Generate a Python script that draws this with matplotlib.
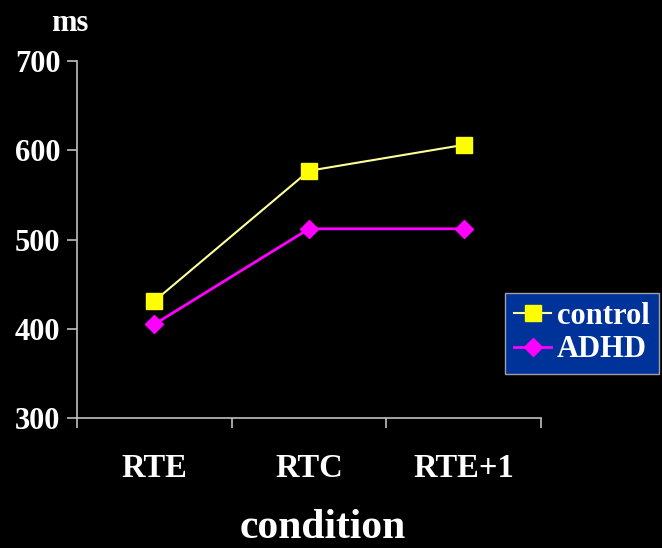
import matplotlib.pyplot as plt

categories = ['RTE', 'RTC', 'RTE+1']
control = [431, 577, 606]
adhd = [405, 512, 512]
yticks = [300, 400, 500, 600, 700]

plt.rcParams['font.family'] = ['Liberation Serif', 'DejaVu Serif']
plt.rcParams['font.weight'] = 'bold'

fig = plt.figure(figsize=(6.62, 5.48), dpi=100, facecolor='black')
ax = fig.add_axes([0.1163, 0.2372, 0.7010, 0.6515])
ax.set_facecolor('black')

x = range(len(categories))
ax.plot(x, control, color='#ffff99', lw=1.5, marker='s', ms=11,
        mfc='#ffff00', mec='#ffff00', label='control')
ax.plot(x, adhd, color='#ff00ff', lw=2, marker='D', ms=9,
        mfc='#ff00ff', mec='#ff00ff', label='ADHD')

ax.set_xlim(-0.5, 2.5)
ax.set_ylim(300, 700)
ax.set_yticks(yticks)
ax.set_yticklabels([str(v) for v in yticks], fontsize=22, color='white', fontweight='bold')
ax.set_xticks([-0.5, 0.5, 1.5, 2.5])
ax.set_xticklabels([])
ax.set_xticks(list(x), minor=True)
ax.set_xticklabels(categories, minor=True, fontsize=23.5, color='white', fontweight='bold')
ax.tick_params(axis='x', which='minor', length=0, pad=25)
ax.tick_params(axis='both', which='major', color='#c0c0c0', length=7, width=1.2)
ax.tick_params(axis='y', pad=5)

for side in ['top', 'right']:
    ax.spines[side].set_visible(False)
for side in ['left', 'bottom']:
    ax.spines[side].set_color('#c0c0c0')
    ax.spines[side].set_linewidth(1.2)

fig.text(0.487, 0.018, 'condition', fontsize=30, color='white', fontweight='bold', ha='center')
fig.text(0.106, 0.943, 'ms', fontsize=22, color='white', fontweight='bold', ha='center')

leg = fig.legend(loc='upper left', bbox_to_anchor=(0.763, 0.466), fontsize=22,
                 facecolor='#003399', edgecolor='#a0a0a0', framealpha=1, fancybox=False,
                 handlelength=1.2, handletextpad=0.2, borderpad=0.3, labelspacing=0.15,
                 borderaxespad=0)
for t in leg.get_texts():
    t.set_color('white')
    t.set_fontweight('bold')

fig.savefig('out.png', dpi=100, facecolor='black')
